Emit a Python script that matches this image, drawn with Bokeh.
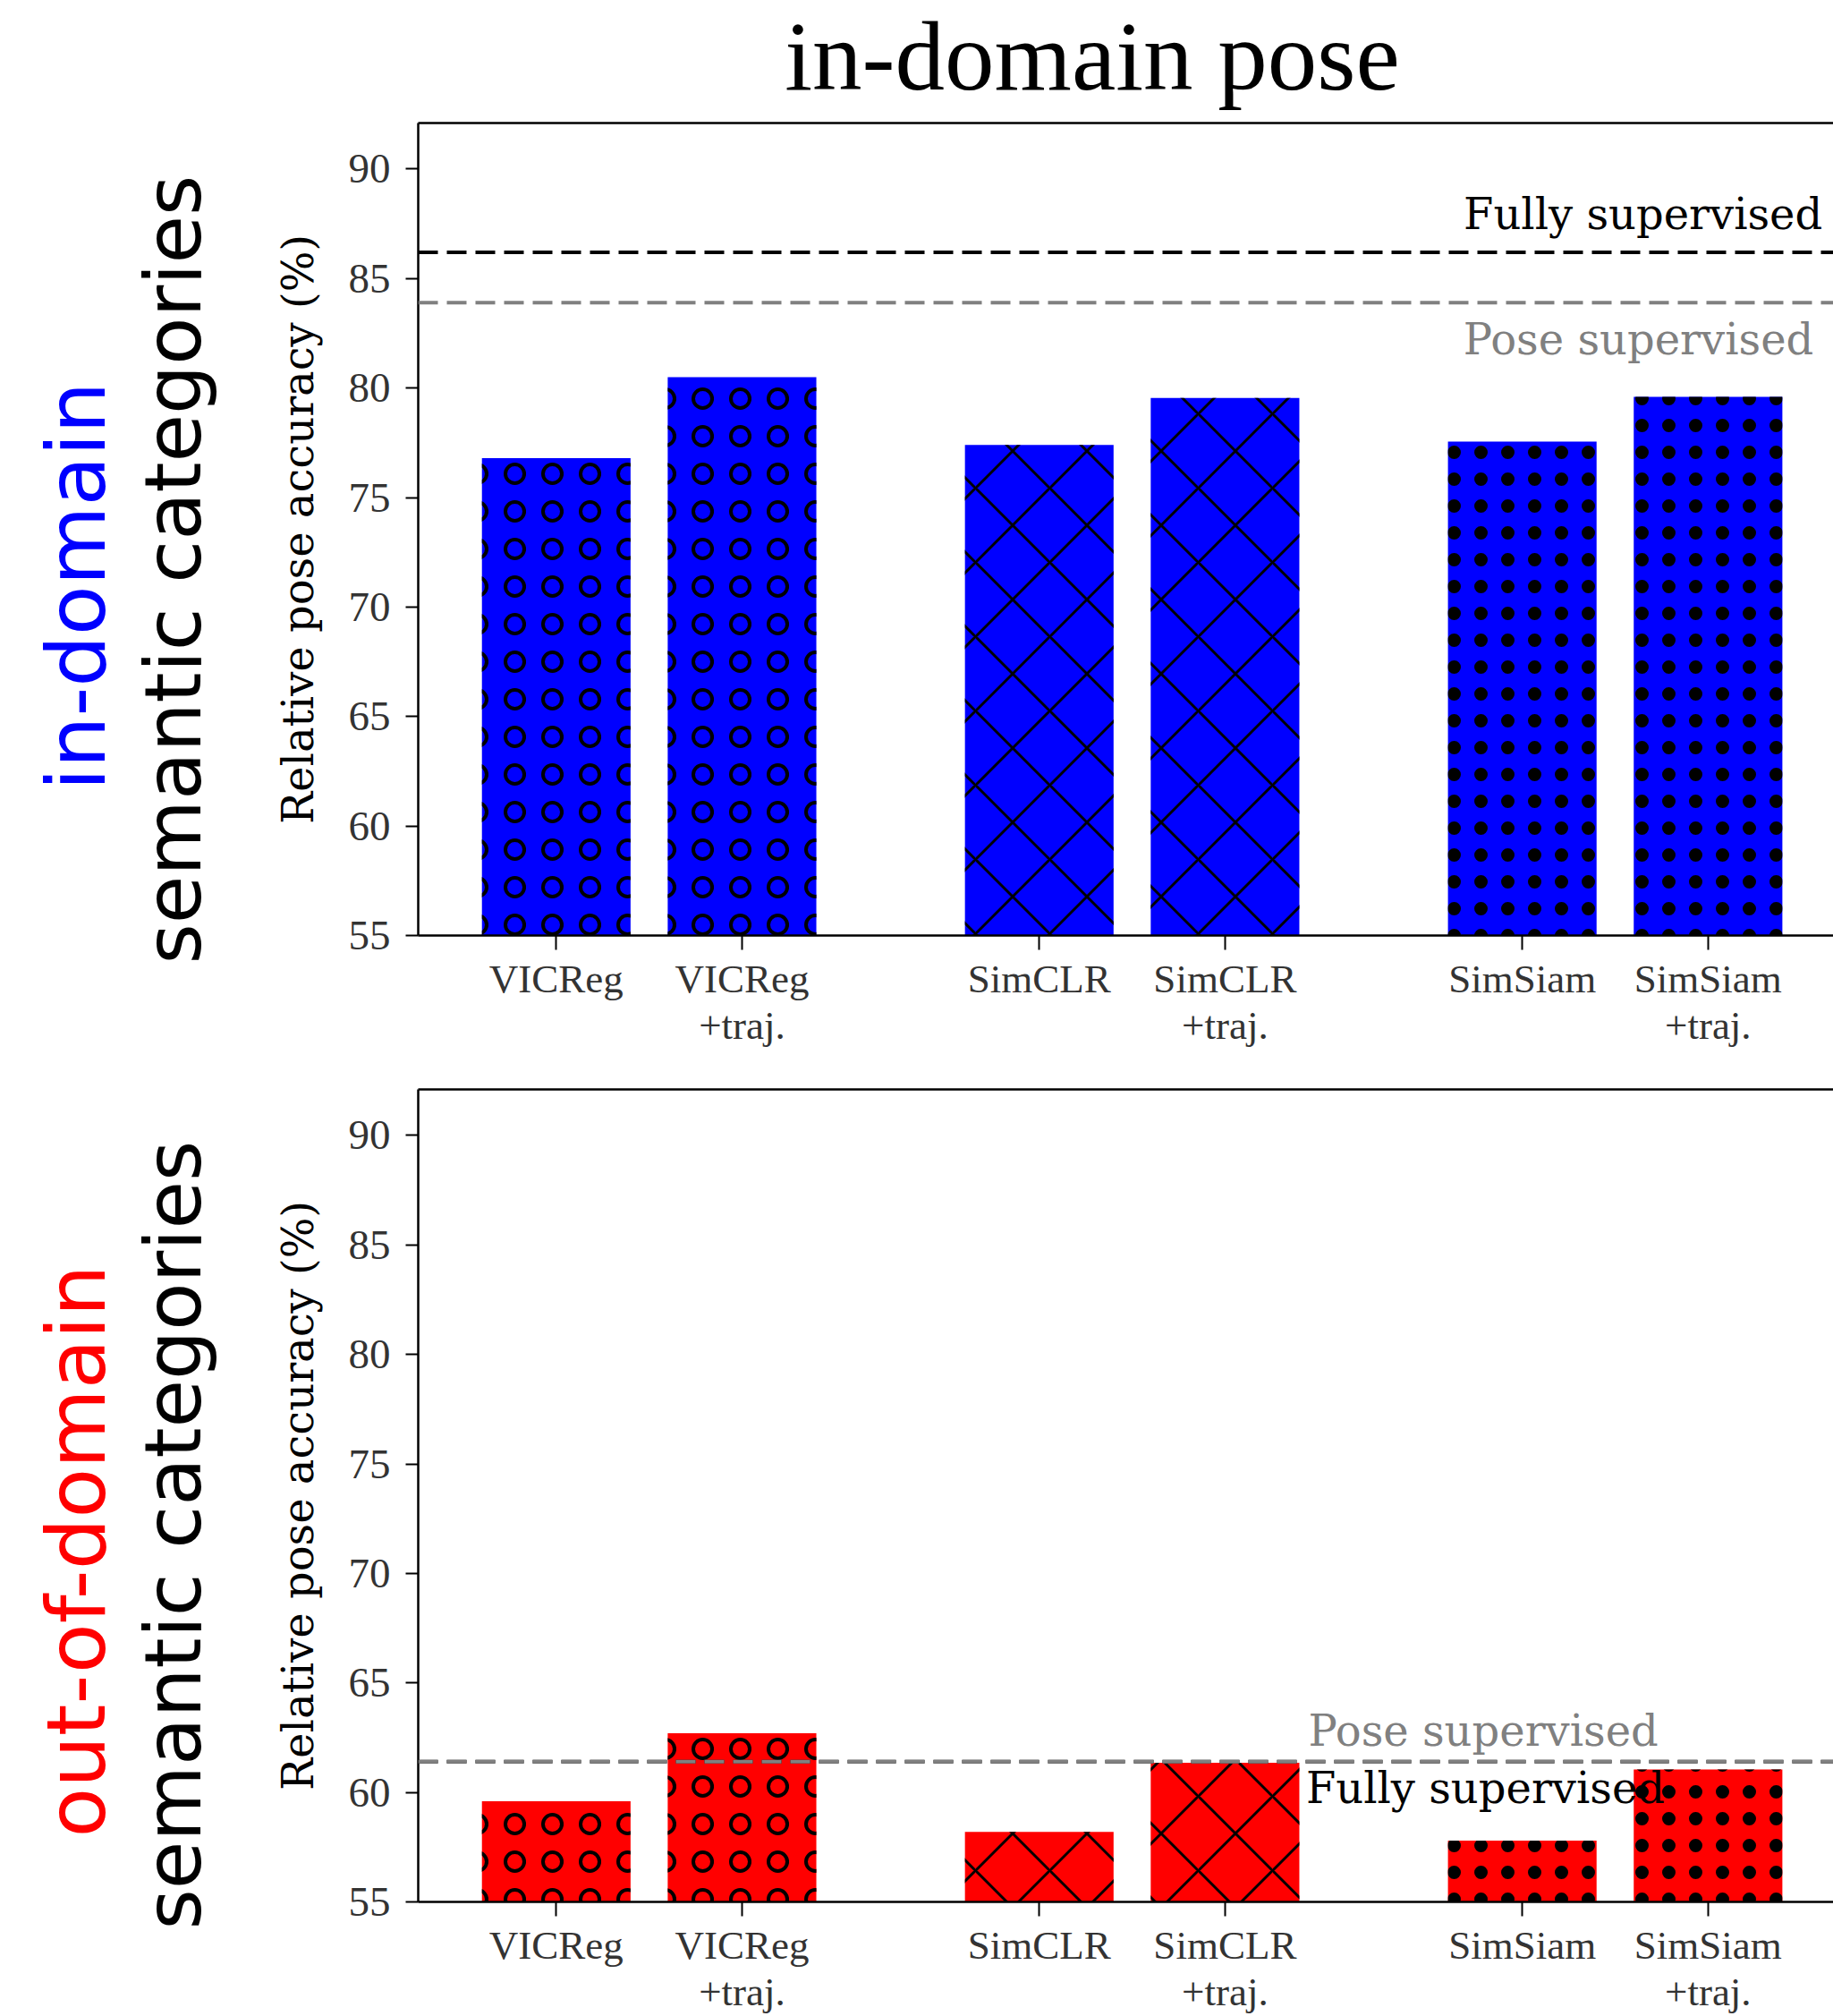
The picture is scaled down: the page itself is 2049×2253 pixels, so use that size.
from bokeh.plotting import figure
from bokeh.layouts import column, row
from bokeh.models import Range1d, FixedTicker, LinearAxis, Span, Label
from bokeh.core.properties import value
from bokeh.embed import file_html
from bokeh.resources import INLINE
import math

# ---------------- data ----------------
methods = ["VICReg", "VICReg\n+traj.", "SimCLR", "SimCLR\n+traj.", "SimSiam", "SimSiam\n+traj."]
positions = [0.0, 1.0, 2.6, 3.6, 5.2, 6.2]
families = ["VICReg", "VICReg", "SimCLR", "SimCLR", "SimSiam", "SimSiam"]
in_domain_acc = [76.8, 80.5, 77.4, 79.55, 77.55, 79.6]
out_domain_acc = [59.6, 62.7, 58.2, 61.35, 57.8, 61.05]
fully_supervised = [86.2, 61.4]
pose_supervised = [83.9, 61.4]
y_ticks = [55, 60, 65, 70, 75, 80, 85, 90]
y_limits = (55, 92.1)
x_limits = (-0.743, 6.875)

# ---------------- layout / styles ----------------
SERIF_T = "Liberation Serif"
SERIF_D = "DejaVu Serif"
SANS = "DejaVu Sans"
# half of (ascent - descent) in em: distance from the baseline to the middle of the text box
MID = {SERIF_T: 0.3375, SERIF_D: 0.346, SANS: 0.346}
W = 2049
LW = 260            # width of the left strip holding the row labels
FL = 467            # frame left (page)
FH = 908            # frame height
TITLE_H = 130
TITLE_SIZE = 111
P1_TOP, P1_BOT = 7, 132
P2_TOP = 172 - P1_BOT
P2_BOT = 2253 - TITLE_H - P1_TOP - FH - P1_BOT - P2_TOP - FH
PPU = FH / (y_limits[1] - y_limits[0])   # pixels per y unit
ANN_SIZE = 48
ROW_SIZE = 87
WORD_SIZE = 91

hatch_style = {
    "VICReg": dict(pattern="ring", scale=42, weight=4),
    "SimCLR": dict(pattern="diagonal_cross", scale=83, weight=3),
    "SimSiam": dict(pattern="dot", scale=30, weight=1),
}


def text_fig(width, height):
    f = figure(width=width, height=height, x_range=Range1d(0, width), y_range=Range1d(0, height),
               output_backend="svg", toolbar_location=None, title=None,
               x_axis_location=None, y_axis_location=None,
               min_border_left=0, min_border_right=0, min_border_top=0, min_border_bottom=0)
    f.grid.visible = False
    f.outline_line_color = None
    f.background_fill_color = "white"
    f.border_fill_color = "white"
    return f


def bar_fig(height, top_border, bottom_border, values, color):
    p = figure(width=W - LW, height=height,
               x_range=Range1d(*x_limits), y_range=Range1d(*y_limits),
               output_backend="svg", toolbar_location=None, title=None,
               min_border_left=FL - LW, min_border_right=0,
               min_border_top=top_border, min_border_bottom=bottom_border)
    p.outline_line_color = None
    p.xgrid.visible = False
    p.ygrid.visible = False
    p.background_fill_color = "white"
    p.border_fill_color = "white"

    for fam in ["VICReg", "SimCLR", "SimSiam"]:
        idx = [i for i, f in enumerate(families) if f == fam]
        st = hatch_style[fam]
        p.vbar(x=[positions[i] for i in idx], top=[values[i] for i in idx], bottom=0,
               width=0.8, fill_color=color, line_color=None,
               hatch_pattern=st["pattern"], hatch_color="black",
               hatch_scale=st["scale"], hatch_weight=st["weight"])

    yax = p.yaxis[0]
    yax.ticker = FixedTicker(ticks=y_ticks)
    yax.axis_label = "Relative pose accuracy (%)"
    yax.axis_label_text_font = SERIF_D
    yax.axis_label_text_font_size = "48px"
    yax.axis_label_text_font_style = "normal"
    yax.axis_label_text_color = "black"
    yax.axis_label_standoff = 26
    yax.major_label_text_font = SERIF_T
    yax.major_label_text_font_size = "47px"
    yax.major_label_text_color = "#333333"
    yax.major_label_standoff = 17
    yax.major_tick_out = 14
    yax.major_tick_in = 0
    yax.minor_tick_out = 0
    yax.minor_tick_in = 0
    yax.major_tick_line_width = 2
    yax.axis_line_width = 2.5

    xax = p.xaxis[0]
    xax.ticker = FixedTicker(ticks=positions)
    xax.major_label_overrides = {pos: m for pos, m in zip(positions, methods)}
    xax.major_label_text_font = SERIF_T
    xax.major_label_text_font_size = "45px"
    xax.major_label_text_color = "#333333"
    xax.major_label_text_line_height = 1.04
    xax.major_label_standoff = 7
    xax.major_tick_out = 16
    xax.major_tick_in = 0
    xax.minor_tick_out = 0
    xax.minor_tick_in = 0
    xax.major_tick_line_width = 2
    xax.axis_line_width = 2.5

    top_ax = LinearAxis(ticker=FixedTicker(ticks=[]), major_tick_out=0, major_tick_in=0,
                        minor_tick_out=0, minor_tick_in=0, major_label_standoff=0,
                        major_label_text_font_size="0px", axis_line_width=2.5,
                        axis_line_color="black")
    p.add_layout(top_ax, "above")
    return p


def add_lines_and_text(p, k, fully_cfg, pose_cfg):
    p.add_layout(Span(location=fully_supervised[k], dimension="width", line_color="black",
                      line_width=4, line_dash="22 10"))
    p.add_layout(Span(location=pose_supervised[k], dimension="width", line_color="#808080",
                      line_width=4, line_dash="22 10"))
    mid = MID[SERIF_D] * ANN_SIZE
    # baseline sits cfg[1] pixels above (+) / below (-) its reference line
    p.add_layout(Label(x=fully_cfg[0], y=fully_supervised[k] + (fully_cfg[1] + mid) / PPU,
                       text="Fully supervised", text_font=SERIF_D,
                       text_font_size=f"{ANN_SIZE}px", text_color="black",
                       text_align=fully_cfg[2], text_baseline="middle"))
    p.add_layout(Label(x=pose_cfg[0], y=pose_supervised[k] + (pose_cfg[1] + mid) / PPU,
                       text="Pose supervised", text_font=SERIF_D,
                       text_font_size=f"{ANN_SIZE}px", text_color="#808080",
                       text_align=pose_cfg[2], text_baseline="middle"))


def row_label_fig(height, frame_bottom, cat_below, word, word_color, word_start):
    f = text_fig(LW, height)
    # rotated text: baseline x, start (bottom end) y, in page-like pixel coordinates
    f.text(x=[224 - MID[SANS] * ROW_SIZE], y=[height - (frame_bottom + cat_below)],
           text=["semantic categories"], angle=math.pi / 2, text_font=value(SANS),
           text_font_size=value(f"{ROW_SIZE}px"), text_color="black",
           text_align="left", text_baseline="middle")
    f.text(x=[116 - MID[SANS] * WORD_SIZE], y=[height - (frame_bottom - word_start)],
           text=[word], angle=math.pi / 2, text_font=value(SANS),
           text_font_size=value(f"{WORD_SIZE}px"), text_color=word_color,
           text_align="left", text_baseline="middle")
    return f


# ---- title strip ----
title_fig = text_fig(W, TITLE_H)
title_fig.text(x=[1220.5], y=[TITLE_H - 99.5 + MID[SERIF_T] * TITLE_SIZE], text=["in-domain pose"],
               text_font=value(SERIF_T), text_font_size=value(f"{TITLE_SIZE}px"),
               text_color="black", text_align="center", text_baseline="middle")

# ---- top panel ----
H1 = P1_TOP + FH + P1_BOT
p1 = bar_fig(H1, P1_TOP, P1_BOT, in_domain_acc, "#0000FF")
add_lines_and_text(p1, 0, (6.816, 26, "right"), (6.768, -57, "right"))
left1 = row_label_fig(H1, P1_TOP + FH, 32, "in-domain", "#0000FF", 162)

# ---- bottom panel ----
H2 = P2_TOP + FH + P2_BOT
p2 = bar_fig(H2, P2_TOP, P2_BOT, out_domain_acc, "#FF0000")
add_lines_and_text(p2, 1, (4.036, -46, "left"), (4.048, 18, "left"))
left2 = row_label_fig(H2, P2_TOP + FH, 31, "out-of-domain", "#FF0000", 72)

layout = column(column(title_fig),
                row(column(left1), p1, spacing=0),
                row(column(left2), p2, spacing=0), spacing=0)
open("out.html", "w").write(file_html(layout, INLINE))
